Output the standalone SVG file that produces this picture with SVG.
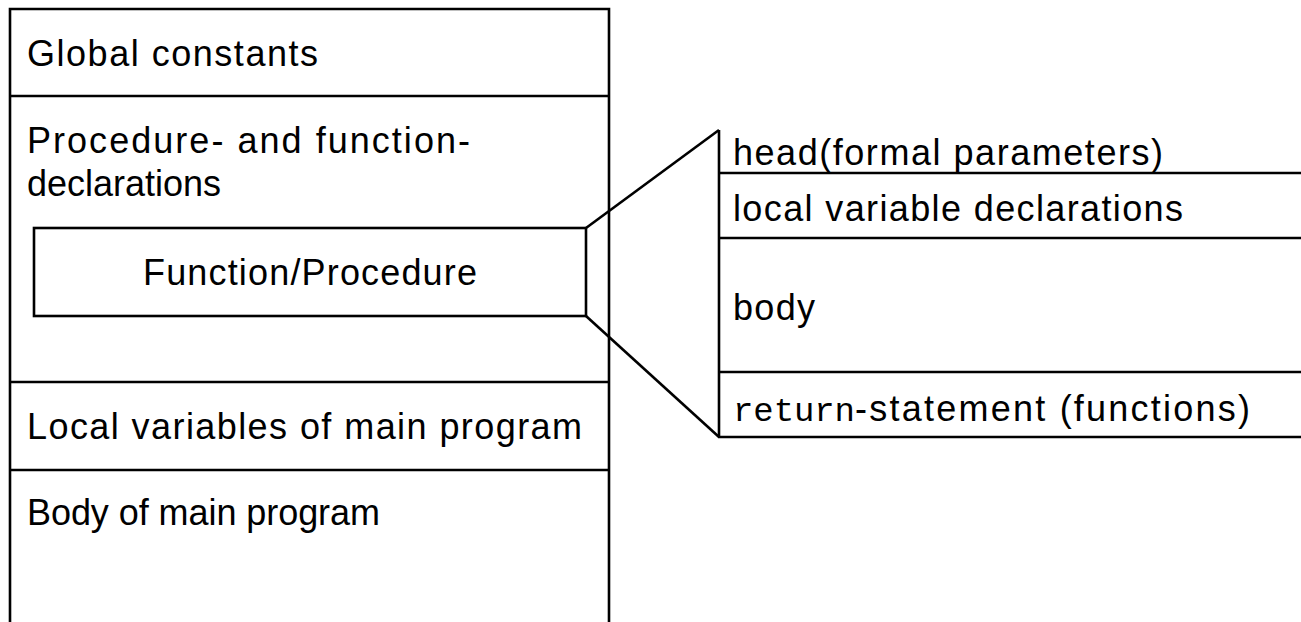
<svg xmlns="http://www.w3.org/2000/svg" width="1301" height="622" viewBox="0 0 1301 622">
<style>
.ln{stroke:#000;stroke-width:2.6;fill:none}
.bx{stroke:#000;stroke-width:2.6;fill:#fff}
.t{font-family:"Liberation Sans",Arial,sans-serif;font-size:36px;fill:#000}
.m{font-family:"Liberation Mono","Courier New",monospace;font-size:34px;fill:#000;font-weight:normal}
</style>
<rect width="1301" height="622" fill="#fff"/>
<g id="main-program">
<path class="ln" d="M10,623 V9 H609 V623"/>
<line class="ln" x1="10" y1="96" x2="609" y2="96"/>
<line class="ln" x1="10" y1="382" x2="609" y2="382"/>
<line class="ln" x1="10" y1="470" x2="609" y2="470"/>
<text class="t" x="27" y="66" textLength="291" lengthAdjust="spacing">Global constants</text>
<text class="t" x="27" y="153" textLength="443" lengthAdjust="spacing">Procedure- and function-</text>
<text class="t" x="27" y="196">declarations</text>
<text class="t" x="27" y="439" textLength="555" lengthAdjust="spacing">Local variables of main program</text>
<text class="t" x="27" y="525" textLength="353" lengthAdjust="spacing">Body of main program</text>
</g>
<g id="function-procedure">
<rect class="bx" x="34" y="228" width="552" height="88"/>
<text class="t" x="143" y="285" textLength="334" lengthAdjust="spacing">Function/Procedure</text>
</g>
<g id="connectors">
<line class="ln" x1="586" y1="228" x2="719" y2="130"/>
<line class="ln" x1="586" y1="316" x2="719" y2="437"/>
</g>
<g id="function-detail">
<line class="ln" x1="719" y1="130" x2="719" y2="437"/>
<line class="ln" x1="719" y1="173" x2="1302" y2="173"/>
<line class="ln" x1="719" y1="238" x2="1302" y2="238"/>
<line class="ln" x1="719" y1="372" x2="1302" y2="372"/>
<line class="ln" x1="718" y1="437" x2="1302" y2="437"/>
<text class="t" x="733" y="165" textLength="430" lengthAdjust="spacing">head(formal parameters)</text>
<text class="t" x="733" y="221" textLength="450" lengthAdjust="spacing">local variable declarations</text>
<text class="t" x="733" y="320" textLength="82" lengthAdjust="spacing">body</text>
<text class="m" x="733" y="421" textLength="122" lengthAdjust="spacing">return</text>
<text class="t" x="855" y="421" textLength="395" lengthAdjust="spacing">-statement (functions)</text>
</g>
</svg>
